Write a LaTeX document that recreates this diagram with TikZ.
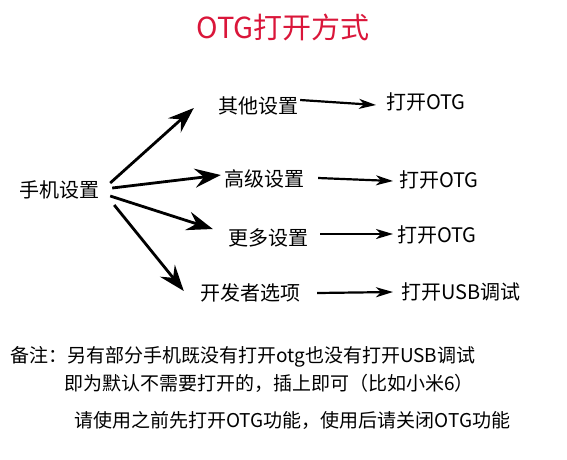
\documentclass[tikz,border=0pt]{standalone}
\usepackage{fontspec}
\setmainfont{Noto Sans CJK SC}
\usetikzlibrary{arrows.meta}
\tikzset{every node/.style={font=\fontsize{20}{24}\selectfont, inner sep=2pt}}
\definecolor{titlecol}{RGB}{218,22,58}
\colorlet{labelcol}{black}
\colorlet{arrowcol}{black}
\tikzset{
  fan/.style={line width=2.8pt, arrowcol,
    -{Stealth[length=26pt, width=19pt, inset=9pt]}},
  flow/.style={line width=2.2pt, arrowcol,
    -{Stealth[length=17pt, width=10pt, inset=5pt]}},
  note/.style={anchor=west, text=labelcol, font=\fontsize{19}{23}\selectfont}
}

\begin{document}
\begin{tikzpicture}[x=1pt, y=-1pt]

  % Page frame.
  \useasboundingbox (0,0) rectangle (567,459);

  % Title.
  \node[text=titlecol, font=\fontsize{29}{34}\selectfont] (title) at (283,27) {OTG打开方式};

  % Start and the four menus.
  \node (phone)  at (59,190)  {手机设置};
  \node (other)  at (258,106) {其他设置};
  \node (senior) at (264,179) {高级设置};
  \node (more)   at (268,238) {更多设置};
  \node (dev)    at (250,293) {开发者选项};

  % What to switch on.
  \node[anchor=west] (otgA) at (384,102) {打开OTG};
  \node[anchor=west] (otgB) at (397,180) {打开OTG};
  \node[anchor=west] (otgC) at (395,235) {打开OTG};
  \node[anchor=west] (usb)  at (399,292) {打开USB调试};

  % Fan of arrows out of the phone settings.
  \draw[fan] ([shift={(9,-7)}]phone.east) -- ([shift={(-22,2)}]other.west);
  \draw[fan] ([shift={(11,-2)}]phone.east) -- ([shift={(-1,-4)}]senior.west);
  \draw[fan] ([shift={(9,6)}]phone.east) -- ([shift={(-13,-9)}]more.west);
  \draw[fan] ([shift={(13,15)}]phone.east) -- ([shift={(-14,-2)}]dev.west);

  % Arrows to the switches.
  \draw[flow] ([yshift=6]other.east) -- ([shift={(-8,3)}]otgA.west);
  \draw[flow] ([xshift=12,yshift=1]senior.east) -- ([shift={(-4,1)}]otgB.west);
  \draw[flow] ([xshift=10,yshift=4]more.east) -- ([shift={(-2,-1)}]otgC.west);
  \draw[flow] ([xshift=15]dev.east) -- ([xshift=-6]usb.west);

  % Notes.
  \node[note] (noteA) at (8,357)  {备注：另有部分手机既没有打开otg也没有打开USB调试};
  \node[note] (noteB) at (62,383) {即为默认不需要打开的，插上即可（比如小米6）};
  \node[note] (noteC) at (72,420) {请使用之前先打开OTG功能，使用后请关闭OTG功能};

\end{tikzpicture}
\end{document}
